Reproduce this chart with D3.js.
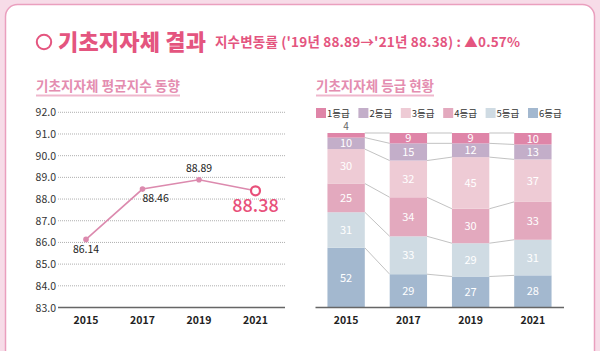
<!DOCTYPE html>
<html>
<head>
<meta charset="utf-8">
<script src="https://cdn.jsdelivr.net/npm/d3@7"></script>
<style>
  html, body { margin: 0; padding: 0; background: #f7dce8; }
  svg { display: block; font-family: "Noto Sans CJK KR", "Noto Sans", sans-serif; }
</style>
</head>
<body>
<svg id="chart" width="600" height="351"></svg>
<script>
// data
var years = ["2015", "2017", "2019", "2021"];
var avgIndex = [86.14, 88.46, 88.89, 88.38];
var yTicks = [83, 84, 85, 86, 87, 88, 89, 90, 91, 92];
var grades = ["1등급", "2등급", "3등급", "4등급", "5등급", "6등급"];
var g1 = [4, 9, 9, 10];
var g2 = [10, 15, 12, 13];
var g3 = [30, 32, 45, 37];
var g4 = [25, 34, 30, 33];
var g5 = [31, 33, 29, 31];
var g6 = [52, 29, 27, 28];
var gradeColors = ["#df85a8", "#c3aec9", "#eecbd5", "#e3a9be", "#cfdbe3", "#a3b8cf"];

var svg = d3.select("#chart");

// card
svg.append("rect")
  .attr("x", 5.5).attr("y", 4.5)
  .attr("width", 589).attr("height", 380)
  .attr("rx", 12)
  .attr("fill", "#fff")
  .attr("stroke", "#ea9fbe")
  .attr("stroke-width", 1.5);

// title
svg.append("circle")
  .attr("cx", 44).attr("cy", 42).attr("r", 7.2)
  .attr("fill", "none").attr("stroke", "#e4557f").attr("stroke-width", 2);
svg.append("text")
  .attr("x", 58).attr("y", 50)
  .attr("font-size", 22).attr("font-weight", 900)
  .attr("fill", "#e4557f")
  .attr("textLength", 148)
  .text("기초지자체 결과");
svg.append("text")
  .attr("x", 215).attr("y", 47)
  .attr("font-size", 13.5).attr("font-weight", 700)
  .attr("fill", "#e4557f")
  .attr("textLength", 305)
  .text("지수변동률 ('19년 88.89→'21년 88.38) : ▲0.57%");

// section titles
function sectionTitle(x, txt, w) {
  svg.append("text")
    .attr("x", x).attr("y", 91)
    .attr("font-size", 13.5).attr("font-weight", 700)
    .attr("fill", "#e48db0")
    .attr("textLength", w)
    .text(txt);
  svg.append("line")
    .attr("x1", x).attr("x2", x + w)
    .attr("y1", 95.5).attr("y2", 95.5)
    .attr("stroke", "#efb8cd").attr("stroke-width", 2);
}
sectionTitle(36, "기초지자체 평균지수 동향", 144);
sectionTitle(316, "기초지자체 등급 현황", 118);

// ---------- line chart ----------
var x = d3.scalePoint().domain(years).range([86, 255.5]);
var y = d3.scaleLinear().domain([83, 92]).range([307.5, 112.3]);

var lg = svg.append("g");
lg.selectAll("line.grid")
  .data(yTicks.slice(1))
  .enter().append("line")
    .attr("class", "grid")
    .attr("x1", 58).attr("x2", 285)
    .attr("y1", function(d) { return y(d); })
    .attr("y2", function(d) { return y(d); })
    .attr("stroke", "#9a9a9a")
    .attr("stroke-width", 0.8)
    .attr("stroke-dasharray", "1,1");

lg.selectAll("text.ytick")
  .data(yTicks)
  .enter().append("text")
    .attr("x", 56)
    .attr("y", function(d) { return y(d) + 4; })
    .attr("text-anchor", "end")
    .attr("font-size", 10.5)
    .attr("fill", "#333")
    .text(function(d) { return d.toFixed(1); });

lg.append("line")
  .attr("x1", 58).attr("x2", 285)
  .attr("y1", y(83)).attr("y2", y(83))
  .attr("stroke", "#666").attr("stroke-width", 1.5);

lg.selectAll("text.xtick")
  .data(years)
  .enter().append("text")
    .attr("x", function(d) { return x(d); })
    .attr("y", 324)
    .attr("text-anchor", "middle")
    .attr("font-size", 10.5).attr("font-weight", 700)
    .attr("fill", "#222")
    .text(function(d) { return d; });

var pts = years.map(function(yr, i) { return {year: yr, v: avgIndex[i]}; });

lg.append("path")
  .datum(pts)
  .attr("fill", "none")
  .attr("stroke", "#dc8aae")
  .attr("stroke-width", 1.6)
  .attr("d", d3.line()
    .x(function(d) { return x(d.year); })
    .y(function(d) { return y(d.v); }));

lg.selectAll("circle.pt")
  .data(pts.slice(0, 3))
  .enter().append("circle")
    .attr("cx", function(d) { return x(d.year); })
    .attr("cy", function(d) { return y(d.v); })
    .attr("r", 2.8)
    .attr("fill", "#dc8aae");

var last = pts[pts.length - 1];
lg.append("circle")
  .attr("cx", x(last.year)).attr("cy", y(last.v))
  .attr("r", 4.5)
  .attr("fill", "#fff")
  .attr("stroke", "#e8507a").attr("stroke-width", 2.2);

// value labels
var labelPos = [
  {dx: 0, dy: 14, anchor: "middle"},
  {dx: 0, dy: 13, anchor: "start"},
  {dx: 0, dy: -8, anchor: "middle"},
  null
];
pts.forEach(function(d, i) {
  var p = labelPos[i];
  if (!p) return;
  lg.append("text")
    .attr("x", x(d.year) + p.dx)
    .attr("y", y(d.v) + p.dy)
    .attr("text-anchor", p.anchor)
    .attr("font-size", 10.5)
    .attr("fill", "#222")
    .text(d.v.toFixed(2));
});
lg.append("text")
  .attr("x", x(last.year))
  .attr("y", y(last.v) + 21)
  .attr("text-anchor", "middle")
  .attr("font-size", 18)
  .attr("font-weight", 500)
  .attr("fill", "#e8507a")
  .text(last.v.toFixed(2));

// ---------- stacked bar chart ----------
var rows = years.map(function(yr, i) {
  return {year: yr, "1등급": g1[i], "2등급": g2[i], "3등급": g3[i],
          "4등급": g4[i], "5등급": g5[i], "6등급": g6[i]};
});
var stackKeys = grades.slice().reverse();
var series = d3.stack().keys(stackKeys)(rows);
var total = d3.sum(grades, function(k) { return rows[0][k]; });

var bx = d3.scaleBand().domain(years).range([315, 564]).paddingInner(0.4).paddingOuter(0.2);
var by = d3.scaleLinear().domain([0, total]).range([307.5, 133]);
var color = d3.scaleOrdinal().domain(grades).range(gradeColors);

var bg = svg.append("g");

// connector lines between bars
series.forEach(function(s) {
  for (var i = 0; i < years.length - 1; i++) {
    bg.append("line")
      .attr("x1", bx(years[i]) + bx.bandwidth())
      .attr("x2", bx(years[i + 1]))
      .attr("y1", by(s[i][1]))
      .attr("y2", by(s[i + 1][1]))
      .attr("stroke", "#a8a8a8")
      .attr("stroke-width", 0.7);
  }
});

var layer = bg.selectAll("g.layer")
  .data(series)
  .enter().append("g")
    .attr("class", "layer")
    .attr("fill", function(d) { return color(d.key); });

layer.selectAll("rect")
  .data(function(d) { return d; })
  .enter().append("rect")
    .attr("x", function(d) { return bx(d.data.year); })
    .attr("y", function(d) { return by(d[1]); })
    .attr("width", bx.bandwidth())
    .attr("height", function(d) { return by(d[0]) - by(d[1]); });

layer.selectAll("text")
  .data(function(d) { return d; })
  .enter().append("text")
    .attr("x", function(d) { return bx(d.data.year) + bx.bandwidth() / 2; })
    .attr("y", function(d) {
      var v = d[1] - d[0];
      return v < 6 ? by(d[1]) - 3 : (by(d[0]) + by(d[1])) / 2 + 4;
    })
    .attr("text-anchor", "middle")
    .attr("font-size", function(d) { return (d[1] - d[0]) < 6 ? 10 : 11; })
    .attr("fill", function(d) { return (d[1] - d[0]) < 6 ? "#666" : "#fff"; })
    .text(function(d) { return d[1] - d[0]; });

bg.append("line")
  .attr("x1", 315.5).attr("x2", 564)
  .attr("y1", 307.5).attr("y2", 307.5)
  .attr("stroke", "#666").attr("stroke-width", 1.5);

bg.selectAll("text.xtick")
  .data(years)
  .enter().append("text")
    .attr("x", function(d) { return bx(d) + bx.bandwidth() / 2; })
    .attr("y", 324)
    .attr("text-anchor", "middle")
    .attr("font-size", 10.5).attr("font-weight", 700)
    .attr("fill", "#222")
    .text(function(d) { return d; });

// legend
var leg = bg.selectAll("g.leg")
  .data(grades)
  .enter().append("g")
    .attr("class", "leg")
    .attr("transform", function(d, i) { return "translate(" + (316 + i * 42.4) + ",108)"; });
leg.append("rect")
  .attr("width", 10).attr("height", 10)
  .attr("fill", function(d) { return color(d); });
leg.append("text")
  .attr("x", 11).attr("y", 9)
  .attr("font-size", 9.5)
  .attr("fill", "#333")
  .text(function(d) { return d; });
</script>
</body>
</html>
